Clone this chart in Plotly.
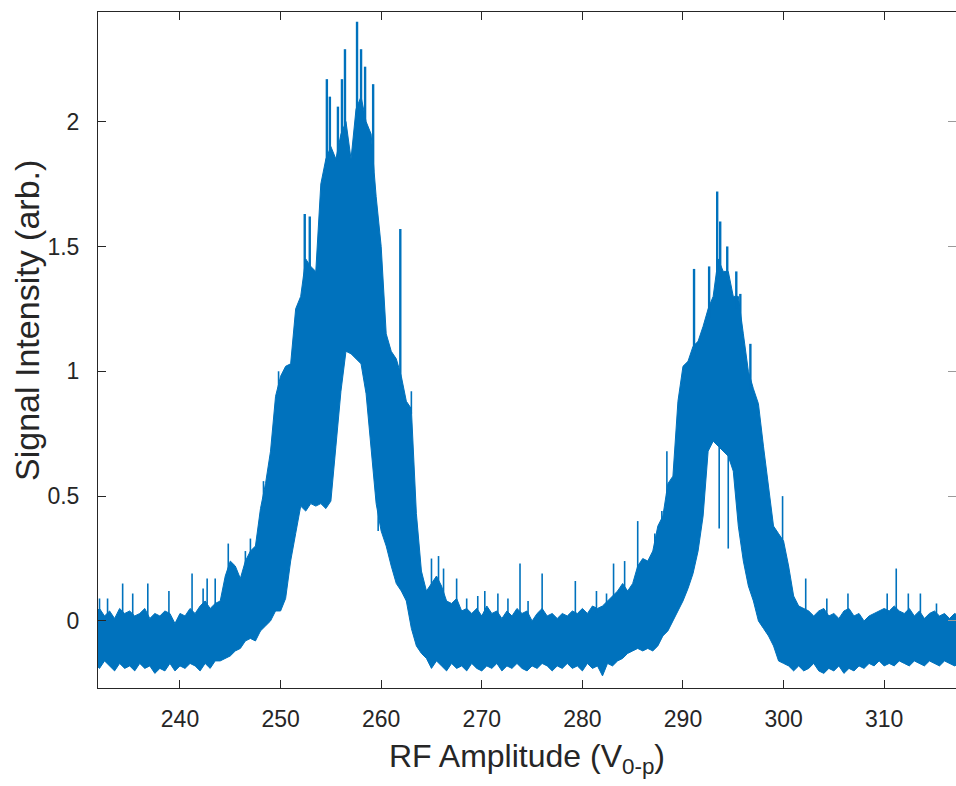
import numpy as np
import plotly.graph_objects as go

# ---- data ----
# sampling grid of RF amplitude (V0-p)
amp_v = np.round(np.arange(231.5, 317.51, 0.5), 2)

# upper edge of the dense signal band
sig_hi = [
    0.03, 0.05, 0.02, 0.04, 0.01, 0.05, 0.03, 0.04, 0.02, 0.03,   # 231.5-236.0
    0.05, 0.01, 0.03, 0.02, 0.04, 0.03, -0.01, 0.03, 0.02, 0.05,  # 236.5-241.0
    0.03, 0.06, 0.08, 0.05, 0.07, 0.08, 0.18, 0.24, 0.22, 0.17,   # 241.5-246.0
    0.24, 0.28, 0.30, 0.45, 0.55, 0.68, 0.90, 0.98, 1.02, 1.03,   # 246.5-251.0
    1.25, 1.30, 1.45, 1.42, 1.40, 1.75, 1.85, 1.90, 1.85, 1.95,   # 251.5-256.0
    2.00, 1.85, 2.05, 2.10, 2.00, 1.95, 1.70, 1.50, 1.15, 1.08,   # 256.5-261.0
    1.05, 0.98, 0.88, 0.85, 0.43, 0.20, 0.12, 0.15, 0.18, 0.14,   # 261.5-266.0
    0.08, 0.07, 0.09, 0.04, 0.05, 0.03, 0.05, 0.02, 0.06, 0.03,   # 266.5-271.0
    0.04, 0.01, 0.04, 0.02, 0.05, 0.03, 0.04, 0.00, 0.03, 0.05,   # 271.5-276.0
    0.02, 0.03, 0.01, 0.03, 0.02, 0.04, 0.03, 0.05, 0.03, 0.06,   # 276.5-281.0
    0.05, 0.06, 0.08, 0.10, 0.12, 0.15, 0.12, 0.15, 0.22, 0.25,   # 281.5-286.0
    0.24, 0.28, 0.38, 0.42, 0.55, 0.58, 0.88, 1.02, 1.04, 1.10,   # 286.5-291.0
    1.12, 1.18, 1.25, 1.30, 1.45, 1.40, 1.40, 1.30, 1.30, 1.15,   # 291.5-296.0
    1.00, 0.93, 0.87, 0.70, 0.55, 0.38, 0.35, 0.32, 0.22, 0.10,   # 296.5-301.0
    0.06, 0.05, 0.04, 0.02, 0.04, 0.05, 0.02, 0.03, 0.01, 0.04,   # 301.5-306.0
    0.05, 0.02, 0.03, 0.00, 0.02, 0.03, 0.04, 0.05, 0.04, 0.06,   # 306.5-311.0
    0.04, 0.03, 0.05, 0.02, 0.04, 0.01, 0.03, 0.04, 0.02, 0.03,   # 311.5-316.0
    0.01, 0.03, 0.02,                                             # 316.5-317.5
]

# lower edge of the dense signal band
sig_lo = [
    -0.17, -0.19, -0.16, -0.18, -0.20, -0.17, -0.19, -0.18, -0.20, -0.17,  # 231.5-236.0
    -0.19, -0.18, -0.21, -0.19, -0.20, -0.17, -0.20, -0.18, -0.19, -0.17,  # 236.5-241.0
    -0.18, -0.20, -0.17, -0.19, -0.16, -0.16, -0.15, -0.14, -0.12, -0.11,  # 241.5-246.0
    -0.08, -0.07, -0.08, -0.04, -0.02, 0.00, 0.04, 0.04, 0.09, 0.24,       # 246.5-251.0
    0.35, 0.46, 0.44, 0.47, 0.46, 0.47, 0.45, 0.48, 0.70, 0.92,            # 251.5-256.0
    1.08, 1.07, 1.05, 1.03, 0.91, 0.69, 0.47, 0.36, 0.30, 0.22,            # 256.5-261.0
    0.15, 0.12, 0.08, -0.03, -0.10, -0.13, -0.15, -0.19, -0.16, -0.18,     # 261.5-266.0
    -0.20, -0.17, -0.19, -0.18, -0.20, -0.17, -0.19, -0.20, -0.18, -0.19,  # 266.5-271.0
    -0.17, -0.20, -0.18, -0.19, -0.17, -0.19, -0.20, -0.18, -0.19, -0.17,  # 271.5-276.0
    -0.18, -0.20, -0.18, -0.19, -0.17, -0.19, -0.18, -0.20, -0.17, -0.19,  # 276.5-281.0
    -0.18, -0.22, -0.17, -0.18, -0.16, -0.15, -0.13, -0.12, -0.11, -0.12,  # 281.5-286.0
    -0.11, -0.12, -0.10, -0.06, -0.04, 0.00, 0.04, 0.08, 0.13, 0.19,       # 286.5-291.0
    0.28, 0.42, 0.68, 0.72, 0.70, 0.68, 0.66, 0.60, 0.38, 0.24,            # 291.5-296.0
    0.14, 0.08, 0.00, -0.03, -0.06, -0.10, -0.16, -0.17, -0.18, -0.20,     # 296.5-301.0
    -0.18, -0.20, -0.19, -0.17, -0.20, -0.21, -0.19, -0.20, -0.18, -0.21,  # 301.5-306.0
    -0.19, -0.20, -0.18, -0.19, -0.17, -0.18, -0.16, -0.18, -0.17, -0.18,  # 306.5-311.0
    -0.16, -0.17, -0.18, -0.16, -0.17, -0.18, -0.16, -0.17, -0.18, -0.16,  # 311.5-316.0
    -0.17, -0.18, -0.17,                                                   # 316.5-317.5
]

# tall strokes at the tops of the two peaks (position, top value)
stroke_v = [252.4, 252.9, 254.6, 254.9, 255.7, 256.1, 256.4, 257.6, 258.0, 258.4,
            259.2, 261.9, 291.1, 292.6, 293.4, 293.7, 294.4, 295.3, 295.7, 296.7]
stroke_y = [1.63, 1.62, 2.17, 2.10, 2.06, 2.17, 2.29, 2.40, 2.29, 2.22,
            2.15, 1.57, 1.41, 1.42, 1.72, 1.60, 1.50, 1.40, 1.31, 1.11]

# isolated thin spikes above the band (position, peak value)
spike_v = [232.0, 232.8, 234.3, 235.3, 236.8, 238.9, 241.2, 242.3, 242.7, 243.5,
           244.8, 246.5, 247.0, 248.3, 249.8, 263.0, 265.0, 265.7, 266.2, 267.5,
           268.5, 269.6, 270.3, 271.6, 272.6, 273.8, 274.6, 276.0, 279.3, 281.4,
           282.4, 283.1, 284.2, 285.5, 287.2, 287.9, 288.4, 299.9, 300.4, 302.2,
           304.3, 306.4, 310.3, 311.2, 312.4, 313.6, 315.2]
spike_y = [0.09, 0.09, 0.15, 0.11, 0.15, 0.12, 0.19, 0.13, 0.17, 0.17,
           0.31, 0.28, 0.33, 0.56, 1.00, 0.92, 0.25, 0.26, 0.21, 0.17,
           0.09, 0.10, 0.12, 0.11, 0.09, 0.23, 0.08, 0.19, 0.16, 0.12,
           0.11, 0.23, 0.24, 0.40, 0.35, 0.44, 0.68, 0.50, 0.16, 0.17,
           0.09, 0.11, 0.11, 0.21, 0.11, 0.11, 0.07]

# narrow dips below the band inside the peaks (position, lowest value)
dip_v = [259.7, 293.6, 294.5]
dip_y = [0.36, 0.37, 0.29]

x_ticks = [240, 250, 260, 270, 280, 290, 300, 310]
x_ticktext = ["240", "250", "260", "270", "280", "290", "300", "310"]
y_ticks = [0, 0.5, 1, 1.5, 2]
y_ticktext = ["0", "0.5", "1", "1.5", "2"]

X_RANGE = [231.85, 317.14]
Y_RANGE = [-0.2685, 2.439]

BLUE = "#0072BD"
AXC = "#262626"
FONT = "Liberation Sans, Arial, Helvetica, sans-serif"


def segments(xs, base, tops):
    sx, sy = [], []
    for v, b, t in zip(xs, base, tops):
        sx += [v, v, None]
        sy += [b, t, None]
    return sx, sy


fig = go.Figure()
fig.add_trace(go.Scatter(x=amp_v, y=sig_lo, mode="lines",
                         line=dict(color=BLUE, width=1), hoverinfo="skip"))
fig.add_trace(go.Scatter(x=amp_v, y=sig_hi, mode="lines", fill="tonexty",
                         fillcolor=BLUE, line=dict(color=BLUE, width=1),
                         hoverinfo="skip"))

tx, ty = segments(stroke_v, np.interp(stroke_v, amp_v, sig_hi) - 0.05, stroke_y)
fig.add_trace(go.Scatter(x=tx, y=ty, mode="lines",
                         line=dict(color=BLUE, width=2.4), hoverinfo="skip"))

sx, sy = segments(spike_v, np.interp(spike_v, amp_v, sig_hi) - 0.02, spike_y)
dx, dy = segments(dip_v, np.interp(dip_v, amp_v, sig_lo) + 0.02, dip_y)
fig.add_trace(go.Scatter(x=sx + dx, y=sy + dy, mode="lines",
                         line=dict(color=BLUE, width=1.6), hoverinfo="skip"))

# empty trace so that the right-hand tick-only axis is drawn
fig.add_trace(go.Scatter(x=[], y=[], yaxis="y2", hoverinfo="skip"))

fig.update_layout(
    width=956, height=786,
    margin=dict(l=98, r=0, t=12, b=98),
    paper_bgcolor="white", plot_bgcolor="white",
    showlegend=False,
    font=dict(family=FONT, color=AXC),
    annotations=[dict(
        text="Signal Intensity (arb.)", textangle=-90,
        xref="paper", yref="paper", x=-0.0828, y=0.5444,
        xanchor="center", yanchor="middle", showarrow=False,
        font=dict(size=34, color=AXC, family=FONT),
    )],
    yaxis2=dict(
        overlaying="y", side="right", anchor="x", range=Y_RANGE,
        tickmode="array", tickvals=y_ticks, showticklabels=False,
        ticks="inside", ticklen=8, tickwidth=1, tickcolor="#9a9a9a",
        showline=False, showgrid=False, zeroline=False,
    ),
)
fig.update_xaxes(
    range=X_RANGE, tickmode="array", tickvals=x_ticks, ticktext=x_ticktext,
    ticks="inside", ticklen=8, tickwidth=1, tickcolor=AXC,
    showline=True, linecolor=AXC, linewidth=1, mirror="ticks",
    showgrid=False, zeroline=False,
    tickfont=dict(size=23, color=AXC), ticklabelstandoff=10,
    title=dict(text="RF Amplitude (V<sub>0-p</sub>)", font=dict(size=32, color=AXC),
               standoff=14),
)
fig.layout.yaxis.update(
    range=Y_RANGE, tickmode="array", tickvals=y_ticks, ticktext=y_ticktext,
    ticks="inside", ticklen=8, tickwidth=1, tickcolor=AXC,
    showline=True, linecolor=AXC, linewidth=1, mirror=False,
    showgrid=False, zeroline=False,
    tickfont=dict(size=23, color=AXC), ticklabelstandoff=13,
)

# remove the browser's default page margin so the 956x786 figure fills the window
fig.write_html("out.html",
               config={"displayModeBar": False, "staticPlot": True},
               post_script="document.body.style.margin='0px';"
                           "document.body.style.overflow='hidden';")
